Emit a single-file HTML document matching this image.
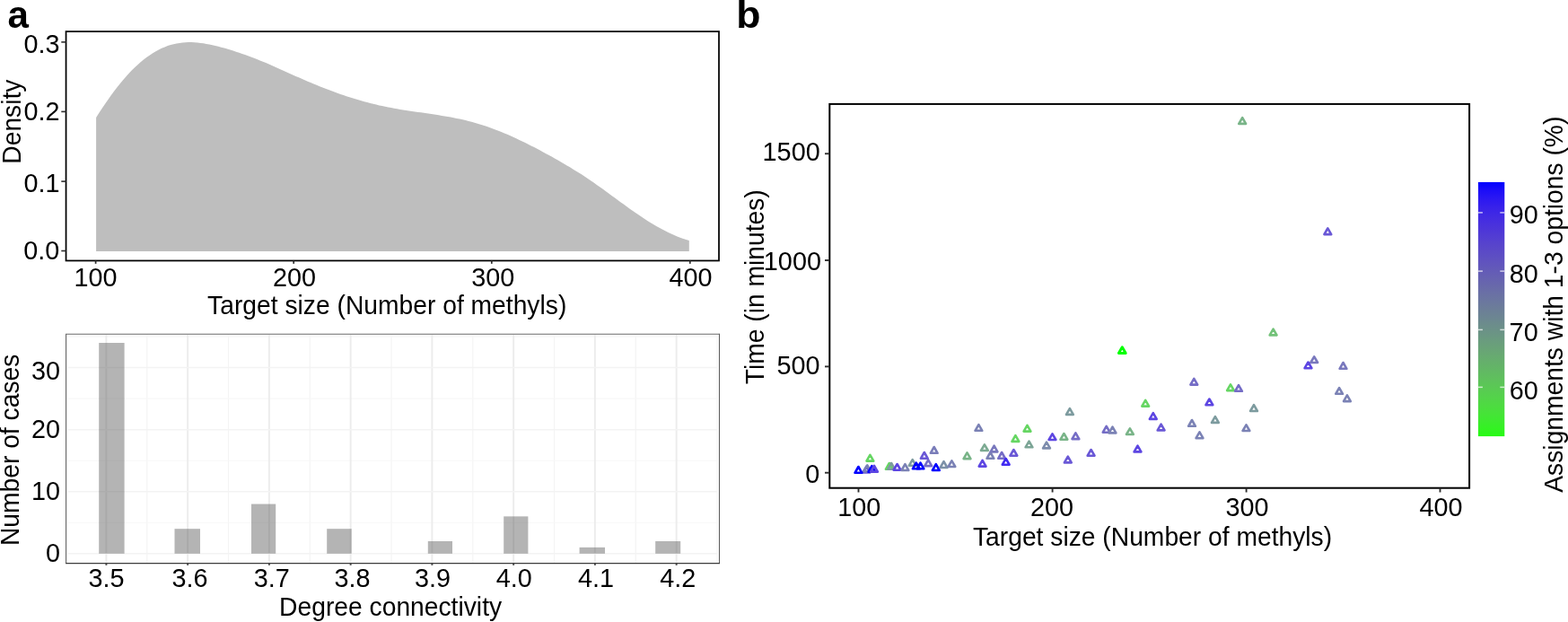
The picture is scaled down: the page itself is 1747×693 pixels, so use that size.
<!DOCTYPE html>
<html lang="en">
<head>
<meta charset="utf-8">
<title>Target size, degree connectivity and run time</title>
<style>
html,body{margin:0;padding:0;background:#fff;}
body{width:1747px;height:693px;overflow:hidden;}
svg{display:block;font-family:"Liberation Sans", sans-serif;fill:#000;}
.t{font-kerning:none;}
</style>
</head>
<body>
<svg width="1747" height="693" viewBox="0 0 1747 693" role="img" aria-label="Density of target size, histogram of degree connectivity, and run time versus target size">
<rect x="0" y="0" width="1747" height="693" fill="#fff"/>
<g id="density">
<path d="M107.1,279.9L107.1,131.0L110.4,125.8L113.7,120.7L117.1,115.7L120.4,110.9L123.7,106.2L127.0,101.7L130.3,97.4L133.7,93.2L137.0,89.2L140.3,85.4L143.6,81.8L146.9,78.3L150.3,75.0L153.6,71.9L156.9,69.0L160.2,66.3L163.5,63.8L166.9,61.4L170.2,59.2L173.5,57.2L176.8,55.4L180.1,53.8L183.5,52.4L186.8,51.1L190.1,50.1L193.4,49.2L196.7,48.4L200.1,47.9L203.4,47.5L206.7,47.2L210.0,47.1L213.3,47.1L216.7,47.2L220.0,47.5L223.3,47.9L226.6,48.3L229.9,48.9L233.3,49.5L236.6,50.2L239.9,51.0L243.2,51.8L246.5,52.7L249.9,53.6L253.2,54.6L256.5,55.6L259.8,56.6L263.1,57.7L266.5,58.8L269.8,60.0L273.1,61.1L276.4,62.3L279.7,63.5L283.1,64.8L286.4,66.1L289.7,67.4L293.0,68.8L296.3,70.1L299.7,71.6L303.0,73.0L306.3,74.4L309.6,75.9L312.9,77.4L316.3,78.9L319.6,80.4L322.9,81.9L326.2,83.4L329.5,84.9L332.9,86.3L336.2,87.8L339.5,89.3L342.8,90.7L346.1,92.1L349.5,93.5L352.8,94.8L356.1,96.2L359.4,97.5L362.7,98.8L366.1,100.1L369.4,101.3L372.7,102.5L376.0,103.7L379.3,104.9L382.7,106.0L386.0,107.2L389.3,108.2L392.6,109.3L395.9,110.3L399.3,111.3L402.6,112.3L405.9,113.2L409.2,114.1L412.5,115.0L415.9,115.8L419.2,116.6L422.5,117.4L425.8,118.1L429.1,118.8L432.5,119.5L435.8,120.1L439.1,120.7L442.4,121.3L445.8,121.9L449.1,122.4L452.4,122.9L455.7,123.4L459.0,123.9L462.4,124.4L465.7,124.9L469.0,125.3L472.3,125.8L475.6,126.3L479.0,126.8L482.3,127.3L485.6,127.8L488.9,128.3L492.2,128.9L495.6,129.4L498.9,130.0L502.2,130.6L505.5,131.2L508.8,131.9L512.2,132.6L515.5,133.3L518.8,134.1L522.1,134.9L525.4,135.8L528.8,136.7L532.1,137.7L535.4,138.7L538.7,139.7L542.0,140.8L545.4,142.0L548.7,143.2L552.0,144.4L555.3,145.7L558.6,147.1L562.0,148.4L565.3,149.8L568.6,151.3L571.9,152.8L575.2,154.3L578.6,155.9L581.9,157.4L585.2,159.1L588.5,160.7L591.8,162.4L595.2,164.1L598.5,165.8L601.8,167.6L605.1,169.4L608.4,171.2L611.8,173.0L615.1,174.8L618.4,176.7L621.7,178.6L625.0,180.5L628.4,182.4L631.7,184.4L635.0,186.3L638.3,188.4L641.6,190.4L645.0,192.5L648.3,194.6L651.6,196.8L654.9,199.0L658.2,201.3L661.6,203.6L664.9,205.9L668.2,208.3L671.5,210.6L674.8,213.0L678.2,215.5L681.5,217.9L684.8,220.3L688.1,222.7L691.4,225.2L694.8,227.6L698.1,230.0L701.4,232.4L704.7,234.7L708.0,237.0L711.4,239.3L714.7,241.6L718.0,243.8L721.3,245.9L724.6,248.0L728.0,250.0L731.3,251.9L734.6,253.8L737.9,255.6L741.2,257.3L744.6,258.9L747.9,260.5L751.2,262.0L754.5,263.4L757.8,264.7L761.2,265.9L764.5,267.0L767.8,268.0L767.8,279.9Z" fill="#bebebe"/>
<rect x="73.55" y="35.1" width="727.45" height="255.35" fill="none" stroke="#000" stroke-width="1.75"/>
<line x1="68.3" y1="46.9" x2="73.55" y2="46.9" stroke="#2e2e2e" stroke-width="1.6"/>
<text transform="translate(26.38 59.35) scale(1 1.01)" font-size="28.8" class="t">0.3</text>
<line x1="68.3" y1="124.4" x2="73.55" y2="124.4" stroke="#2e2e2e" stroke-width="1.6"/>
<text transform="translate(26.56 134.1) scale(1 1.01)" font-size="28.8" class="t">0.2</text>
<line x1="68.3" y1="202.1" x2="73.55" y2="202.1" stroke="#2e2e2e" stroke-width="1.6"/>
<text transform="translate(26.52 213.5) scale(1 1.01)" font-size="28.8" class="t">0.1</text>
<line x1="68.3" y1="279.5" x2="73.55" y2="279.5" stroke="#2e2e2e" stroke-width="1.6"/>
<text transform="translate(26.24 289.3) scale(1 1.01)" font-size="28.8" class="t">0.0</text>
<line x1="106.6" y1="290.45" x2="106.6" y2="293.85" stroke="#2e2e2e" stroke-width="1.7"/>
<text transform="translate(82.54 318.6) scale(1 1.01)" font-size="28.8" class="t">100</text>
<line x1="327.2" y1="290.45" x2="327.2" y2="293.85" stroke="#2e2e2e" stroke-width="1.7"/>
<text transform="translate(303.91 318.6) scale(1 1.01)" font-size="28.8" class="t">200</text>
<line x1="547.8" y1="290.45" x2="547.8" y2="293.85" stroke="#2e2e2e" stroke-width="1.7"/>
<text transform="translate(525.24 318.6) scale(1 1.01)" font-size="28.8" class="t">300</text>
<line x1="768.8" y1="290.45" x2="768.8" y2="293.85" stroke="#2e2e2e" stroke-width="1.7"/>
<text transform="translate(745.41 318.6) scale(1 1.01)" font-size="28.8" class="t">400</text>
<text transform="translate(431.2 350.2) scale(1 1.025)" font-size="28.25" text-anchor="middle">Target size (Number of methyls)</text>
<text transform="translate(23 135.6) rotate(-90) scale(1 1.025)" font-size="28.25" text-anchor="middle">Density</text>
</g>
<g id="histogram">
<g stroke="#f4f4f4" stroke-width="1.2">
<line x1="73.03" y1="373" x2="73.03" y2="627.2"/>
<line x1="163.78" y1="373" x2="163.78" y2="627.2"/>
<line x1="254.53" y1="373" x2="254.53" y2="627.2"/>
<line x1="345.27" y1="373" x2="345.27" y2="627.2"/>
<line x1="436.02" y1="373" x2="436.02" y2="627.2"/>
<line x1="526.77" y1="373" x2="526.77" y2="627.2"/>
<line x1="617.52" y1="373" x2="617.52" y2="627.2"/>
<line x1="708.27" y1="373" x2="708.27" y2="627.2"/>
<line x1="799.02" y1="373" x2="799.02" y2="627.2"/>
</g>
<g stroke="#f7f7f7" stroke-width="1.1">
<line x1="76" y1="582.27" x2="799.3" y2="582.27"/>
<line x1="76" y1="513.21" x2="799.3" y2="513.21"/>
<line x1="76" y1="444.15" x2="799.3" y2="444.15"/>
<line x1="76" y1="375.09" x2="799.3" y2="375.09"/>
</g>
<g stroke="#ececec" stroke-width="1.9">
<line x1="118.4" y1="373" x2="118.4" y2="627.2"/>
<line x1="209.15" y1="373" x2="209.15" y2="627.2"/>
<line x1="299.9" y1="373" x2="299.9" y2="627.2"/>
<line x1="390.65" y1="373" x2="390.65" y2="627.2"/>
<line x1="481.4" y1="373" x2="481.4" y2="627.2"/>
<line x1="572.15" y1="373" x2="572.15" y2="627.2"/>
<line x1="662.9" y1="373" x2="662.9" y2="627.2"/>
<line x1="753.65" y1="373" x2="753.65" y2="627.2"/>
</g>
<g stroke="#f3f3f3" stroke-width="1.5">
<line x1="76" y1="616.8" x2="799.3" y2="616.8"/>
<line x1="76" y1="547.74" x2="799.3" y2="547.74"/>
<line x1="76" y1="478.68" x2="799.3" y2="478.68"/>
<line x1="76" y1="409.62" x2="799.3" y2="409.62"/>
</g>
<g fill="#595959" fill-opacity="0.45">
<rect x="110.2" y="382" width="28.4" height="234.8" fill="#595959"/>
<rect x="194.5" y="589.18" width="28.5" height="27.62" fill="#595959"/>
<rect x="280" y="561.55" width="27.2" height="55.25" fill="#595959"/>
<rect x="364.2" y="589.18" width="27.5" height="27.62" fill="#595959"/>
<rect x="476.8" y="602.99" width="27.2" height="13.81" fill="#595959"/>
<rect x="561.2" y="575.36" width="27.2" height="41.44" fill="#595959"/>
<rect x="645.6" y="609.89" width="28.4" height="6.91" fill="#595959"/>
<rect x="730.2" y="602.99" width="28" height="13.81" fill="#595959"/>
</g>
<path d="M73.6,627.5V372.2H801.5" fill="none" stroke="#6b6b6b" stroke-width="1.15"/>
<path d="M801.5,627.5V371.7" fill="none" stroke="#5e5e5e" stroke-width="1.1"/>
<path d="M73.1,627.6H802.05" fill="none" stroke="#3c3c3c" stroke-width="1.45"/>
<line x1="118.4" y1="627.5" x2="118.4" y2="629.8" stroke="#444" stroke-width="1.9"/>
<text transform="translate(98.44 654.2) scale(1 1.01)" font-size="28.8" class="t">3.5</text>
<line x1="209.15" y1="627.5" x2="209.15" y2="629.8" stroke="#444" stroke-width="1.9"/>
<text transform="translate(191.42 654.2) scale(1 1.01)" font-size="28.8" class="t">3.6</text>
<line x1="299.9" y1="627.5" x2="299.9" y2="629.8" stroke="#444" stroke-width="1.9"/>
<text transform="translate(282.86 654.2) scale(1 1.01)" font-size="28.8" class="t">3.7</text>
<line x1="390.65" y1="627.5" x2="390.65" y2="629.8" stroke="#444" stroke-width="1.9"/>
<text transform="translate(372.51 654.2) scale(1 1.01)" font-size="28.8" class="t">3.8</text>
<line x1="481.4" y1="627.5" x2="481.4" y2="629.8" stroke="#444" stroke-width="1.9"/>
<text transform="translate(462.02 654.2) scale(1 1.01)" font-size="28.8" class="t">3.9</text>
<line x1="572.15" y1="627.5" x2="572.15" y2="629.8" stroke="#444" stroke-width="1.9"/>
<text transform="translate(552.76 654.2) scale(1 1.01)" font-size="28.8" class="t">4.0</text>
<line x1="662.9" y1="627.5" x2="662.9" y2="629.8" stroke="#444" stroke-width="1.9"/>
<text transform="translate(643.95 654.2) scale(1 1.01)" font-size="28.8" class="t">4.1</text>
<line x1="753.65" y1="627.5" x2="753.65" y2="629.8" stroke="#444" stroke-width="1.9"/>
<text transform="translate(735.33 654.2) scale(1 1.01)" font-size="28.8" class="t">4.2</text>
<text transform="translate(34.99 422.6) scale(1 1.01)" font-size="28.8" class="t">30</text>
<text transform="translate(34.99 488.2) scale(1 1.01)" font-size="28.8" class="t">20</text>
<text transform="translate(34.99 557) scale(1 1.01)" font-size="28.8" class="t">10</text>
<text transform="translate(51.01 626.2) scale(1 1.01)" font-size="28.8" class="t">0</text>
<text transform="translate(435.1 686.4) scale(1 1.025)" font-size="28.25" text-anchor="middle">Degree connectivity</text>
<text transform="translate(20.7 501.4) rotate(-90) scale(1 1.025)" font-size="28.25" text-anchor="middle">Number of cases</text>
</g>
<g id="scatter">
<g fill="none" stroke-width="2.6" stroke-linejoin="round">
<polygon points="965.3,519.7 969.2,526.5 961.4,526.5" stroke="#6a58d6"/>
<polygon points="966.3,518.4 970.2,525.1 962.4,525.1" stroke="#7b82b5"/>
<polygon points="971.4,519.1 975.3,525.8 967.5,525.8" stroke="#0000ff"/>
<polygon points="956.4,520.0 960.3,526.8 952.5,526.8" stroke="#0000ff"/>
<polygon points="974.0,518.8 977.9,525.6 970.1,525.6" stroke="#5d46e2"/>
<polygon points="969.4,506.8 973.3,513.6 965.5,513.6" stroke="#66d663"/>
<polygon points="990.8,516.0 994.7,522.8 986.9,522.8" stroke="#66d663"/>
<polygon points="993.1,516.0 997.0,522.8 989.2,522.8" stroke="#7d9b9f"/>
<polygon points="999.6,517.0 1003.5,523.7 995.7,523.7" stroke="#5d46e2"/>
<polygon points="1008.4,517.2 1012.3,524.0 1004.5,524.0" stroke="#7b82b5"/>
<polygon points="1016.7,512.1 1020.6,518.8 1012.8,518.8" stroke="#7d9b9f"/>
<polygon points="1020.8,515.6 1024.7,522.3 1016.9,522.3" stroke="#0000ff"/>
<polygon points="1025.5,515.6 1029.3,522.3 1021.6,522.3" stroke="#0000ff"/>
<polygon points="1034.2,512.4 1038.1,519.1 1030.3,519.1" stroke="#756dc6"/>
<polygon points="1029.8,504.0 1033.7,510.8 1025.9,510.8" stroke="#6a58d6"/>
<polygon points="1040.7,498.0 1044.6,504.8 1036.8,504.8" stroke="#7a7db9"/>
<polygon points="1042.8,517.2 1046.7,524.0 1038.9,524.0" stroke="#0000ff"/>
<polygon points="1051.5,514.2 1055.4,521.0 1047.6,521.0" stroke="#7d91a8"/>
<polygon points="1060.4,513.3 1064.3,520.0 1056.5,520.0" stroke="#7b82b5"/>
<polygon points="1077.5,504.3 1081.4,511.1 1073.6,511.1" stroke="#79b488"/>
<polygon points="1090.4,473.1 1094.3,479.8 1086.5,479.8" stroke="#7b82b5"/>
<polygon points="1096.9,495.3 1100.8,502.0 1093.0,502.0" stroke="#7caa92"/>
<polygon points="1094.6,512.8 1098.5,519.6 1090.7,519.6" stroke="#5d46e2"/>
<polygon points="1103.4,504.0 1107.3,510.8 1099.5,510.8" stroke="#7b82b5"/>
<polygon points="1107.6,496.6 1111.4,503.4 1103.7,503.4" stroke="#7978bd"/>
<polygon points="1116.1,504.0 1120.0,510.8 1112.2,510.8" stroke="#756dc6"/>
<polygon points="1120.7,511.0 1124.6,517.7 1116.8,517.7" stroke="#422bf2"/>
<polygon points="1129.4,501.0 1133.3,507.7 1125.5,507.7" stroke="#6a58d6"/>
<polygon points="1131.4,485.1 1135.3,491.9 1127.5,491.9" stroke="#66d663"/>
<polygon points="1144.5,473.8 1148.4,480.6 1140.6,480.6" stroke="#66d663"/>
<polygon points="1146.5,491.6 1150.4,498.3 1142.6,498.3" stroke="#7ca596"/>
<polygon points="1166.0,492.7 1169.9,499.4 1162.1,499.4" stroke="#7d8cac"/>
<polygon points="1172.5,483.3 1176.4,490.0 1168.6,490.0" stroke="#5d46e2"/>
<polygon points="1185.4,483.0 1189.3,489.7 1181.5,489.7" stroke="#79b488"/>
<polygon points="1198.4,482.3 1202.3,489.1 1194.5,489.1" stroke="#756dc6"/>
<polygon points="1189.8,508.7 1193.7,515.4 1185.9,515.4" stroke="#6a58d6"/>
<polygon points="1215.6,501.0 1219.5,507.7 1211.7,507.7" stroke="#6a58d6"/>
<polygon points="1232.7,474.9 1236.6,481.7 1228.8,481.7" stroke="#756dc6"/>
<polygon points="1239.5,475.7 1243.4,482.4 1235.6,482.4" stroke="#7b82b5"/>
<polygon points="1191.9,455.1 1195.8,461.9 1188.0,461.9" stroke="#7d9b9f"/>
<polygon points="1258.9,477.3 1262.8,484.0 1255.0,484.0" stroke="#79b488"/>
<polygon points="1276.2,445.9 1280.1,452.6 1272.3,452.6" stroke="#66d663"/>
<polygon points="1284.8,460.2 1288.7,466.9 1280.9,466.9" stroke="#5d46e2"/>
<polygon points="1293.6,472.7 1297.5,479.4 1289.7,479.4" stroke="#6a58d6"/>
<polygon points="1267.5,496.7 1271.4,503.4 1263.6,503.4" stroke="#5d46e2"/>
<polygon points="1328.0,468.0 1331.9,474.8 1324.1,474.8" stroke="#7b82b5"/>
<polygon points="1336.5,481.4 1340.4,488.2 1332.6,488.2" stroke="#7b82b5"/>
<polygon points="1347.4,444.5 1351.3,451.2 1343.5,451.2" stroke="#5d46e2"/>
<polygon points="1353.9,464.2 1357.8,470.9 1350.0,470.9" stroke="#7d9b9f"/>
<polygon points="1388.5,473.3 1392.3,480.0 1384.6,480.0" stroke="#7b82b5"/>
<polygon points="1397.0,451.2 1400.9,458.0 1393.1,458.0" stroke="#7d9b9f"/>
<polygon points="1330.3,421.9 1334.2,428.6 1326.4,428.6" stroke="#756dc6"/>
<polygon points="1371.0,428.4 1374.9,435.1 1367.1,435.1" stroke="#66d663"/>
<polygon points="1380.0,429.1 1383.9,435.8 1376.1,435.8" stroke="#756dc6"/>
<polygon points="1418.6,366.6 1422.5,373.4 1414.7,373.4" stroke="#73c279"/>
<polygon points="1464.2,397.3 1468.1,404.0 1460.3,404.0" stroke="#7978bd"/>
<polygon points="1457.5,403.5 1461.4,410.2 1453.6,410.2" stroke="#5d46e2"/>
<polygon points="1496.5,404.0 1500.4,410.8 1492.6,410.8" stroke="#7978bd"/>
<polygon points="1492.1,432.1 1496.0,438.8 1488.2,438.8" stroke="#7b82b5"/>
<polygon points="1500.9,440.4 1504.8,447.1 1497.0,447.1" stroke="#7b82b5"/>
<polygon points="1384.2,131.1 1388.1,137.9 1380.3,137.9" stroke="#79b488"/>
<polygon points="1479.3,254.3 1483.2,261.1 1475.4,261.1" stroke="#6a58d6"/>
<polygon points="1250.3,386.8 1254.2,393.5 1246.4,393.5" stroke="#00ff00" stroke-width="2.95"/>
</g>
<rect x="924.3" y="115.9" width="712.8" height="427.8" fill="none" stroke="#000" stroke-width="2.0"/>
<line x1="919" y1="171.25" x2="924.3" y2="171.25" stroke="#2e2e2e" stroke-width="1.9"/>
<text transform="translate(849.61 179.4) scale(1 1.01)" font-size="28.8" class="t">1500</text>
<line x1="919" y1="290" x2="924.3" y2="290" stroke="#2e2e2e" stroke-width="1.9"/>
<text transform="translate(850.86 301.2) scale(1 1.01)" font-size="28.8" class="t">1000</text>
<line x1="919" y1="408.4" x2="924.3" y2="408.4" stroke="#2e2e2e" stroke-width="1.9"/>
<text transform="translate(865.47 417.3) scale(1 1.01)" font-size="28.8" class="t">500</text>
<line x1="919" y1="526.7" x2="924.3" y2="526.7" stroke="#2e2e2e" stroke-width="1.9"/>
<text transform="translate(897.21 537.8) scale(1 1.01)" font-size="28.8" class="t">0</text>
<line x1="956.5" y1="543.7" x2="956.5" y2="548.5" stroke="#2e2e2e" stroke-width="1.9"/>
<text transform="translate(933.24 575) scale(1 1.01)" font-size="28.8" class="t">100</text>
<line x1="1172.6" y1="543.7" x2="1172.6" y2="548.5" stroke="#2e2e2e" stroke-width="1.9"/>
<text transform="translate(1147.91 575) scale(1 1.01)" font-size="28.8" class="t">200</text>
<line x1="1388.6" y1="543.7" x2="1388.6" y2="548.5" stroke="#2e2e2e" stroke-width="1.9"/>
<text transform="translate(1365.59 575) scale(1 1.01)" font-size="28.8" class="t">300</text>
<line x1="1604.5" y1="543.7" x2="1604.5" y2="548.5" stroke="#2e2e2e" stroke-width="1.9"/>
<text transform="translate(1581.51 575) scale(1 1.01)" font-size="28.8" class="t">400</text>
<text transform="translate(1284.05 608.15) scale(1 1.025)" font-size="28.25" text-anchor="middle">Target size (Number of methyls)</text>
<text transform="translate(850.6 319.8) rotate(-90) scale(1 1.025)" font-size="28.25" text-anchor="middle">Time (in minutes)</text>
<defs><linearGradient id="cg" x1="0" y1="1" x2="0" y2="0">
<stop offset="0%" stop-color="#26fa14"/>
<stop offset="3.12%" stop-color="#34f223"/>
<stop offset="6.25%" stop-color="#3eea2f"/>
<stop offset="9.38%" stop-color="#47e239"/>
<stop offset="12.5%" stop-color="#4eda42"/>
<stop offset="15.62%" stop-color="#54d24b"/>
<stop offset="18.75%" stop-color="#59ca53"/>
<stop offset="21.88%" stop-color="#5ec25b"/>
<stop offset="25%" stop-color="#61ba62"/>
<stop offset="28.12%" stop-color="#64b269"/>
<stop offset="31.25%" stop-color="#67ab70"/>
<stop offset="34.38%" stop-color="#69a377"/>
<stop offset="37.5%" stop-color="#6a9c7e"/>
<stop offset="40.62%" stop-color="#6b9485"/>
<stop offset="43.75%" stop-color="#6c8d8b"/>
<stop offset="46.88%" stop-color="#6c8592"/>
<stop offset="50%" stop-color="#6c7e98"/>
<stop offset="53.12%" stop-color="#6b779f"/>
<stop offset="56.25%" stop-color="#6a70a5"/>
<stop offset="59.38%" stop-color="#6868ab"/>
<stop offset="62.5%" stop-color="#6661b2"/>
<stop offset="65.62%" stop-color="#635ab8"/>
<stop offset="68.75%" stop-color="#6053bf"/>
<stop offset="71.88%" stop-color="#5c4cc5"/>
<stop offset="75%" stop-color="#5845cb"/>
<stop offset="78.12%" stop-color="#533ed2"/>
<stop offset="81.25%" stop-color="#4d36d8"/>
<stop offset="84.38%" stop-color="#472fdf"/>
<stop offset="87.5%" stop-color="#3f28e5"/>
<stop offset="90.62%" stop-color="#3620eb"/>
<stop offset="93.75%" stop-color="#2a17f2"/>
<stop offset="96.88%" stop-color="#1b0df8"/>
<stop offset="100%" stop-color="#0000ff"/>
</linearGradient></defs>
<rect x="1646.9" y="202.9" width="29.4" height="283.2" fill="url(#cg)"/>
<line x1="1646.9" y1="236.9" x2="1651.9" y2="236.9" stroke="#fff" stroke-width="1.5" stroke-opacity="0.7"/>
<line x1="1671.3" y1="236.9" x2="1676.3" y2="236.9" stroke="#fff" stroke-width="1.5" stroke-opacity="0.7"/>
<text transform="translate(1681.75 249.3) scale(1 1.01)" font-size="28.8" class="t">90</text>
<line x1="1646.9" y1="302.1" x2="1651.9" y2="302.1" stroke="#fff" stroke-width="1.5" stroke-opacity="0.7"/>
<line x1="1671.3" y1="302.1" x2="1676.3" y2="302.1" stroke="#fff" stroke-width="1.5" stroke-opacity="0.7"/>
<text transform="translate(1681.85 314.8) scale(1 1.01)" font-size="28.8" class="t">80</text>
<line x1="1646.9" y1="367.4" x2="1651.9" y2="367.4" stroke="#fff" stroke-width="1.5" stroke-opacity="0.7"/>
<line x1="1671.3" y1="367.4" x2="1676.3" y2="367.4" stroke="#fff" stroke-width="1.5" stroke-opacity="0.7"/>
<text transform="translate(1681.62 379.6) scale(1 1.01)" font-size="28.8" class="t">70</text>
<line x1="1646.9" y1="431.4" x2="1651.9" y2="431.4" stroke="#fff" stroke-width="1.5" stroke-opacity="0.7"/>
<line x1="1671.3" y1="431.4" x2="1676.3" y2="431.4" stroke="#fff" stroke-width="1.5" stroke-opacity="0.7"/>
<text transform="translate(1681.64 445) scale(1 1.01)" font-size="28.8" class="t">60</text>
<text transform="translate(1741 339.2) rotate(-90) scale(1 1.025)" font-size="28.25" text-anchor="middle">Assignments with 1-3 options (%)</text>
</g>
<text transform="translate(8.6 30.55)" font-size="42.1" font-weight="bold">a</text>
<text transform="translate(820.2 31) scale(1.06 1.0)" font-size="42.1" font-weight="bold">b</text>
</svg>
</body>
</html>
